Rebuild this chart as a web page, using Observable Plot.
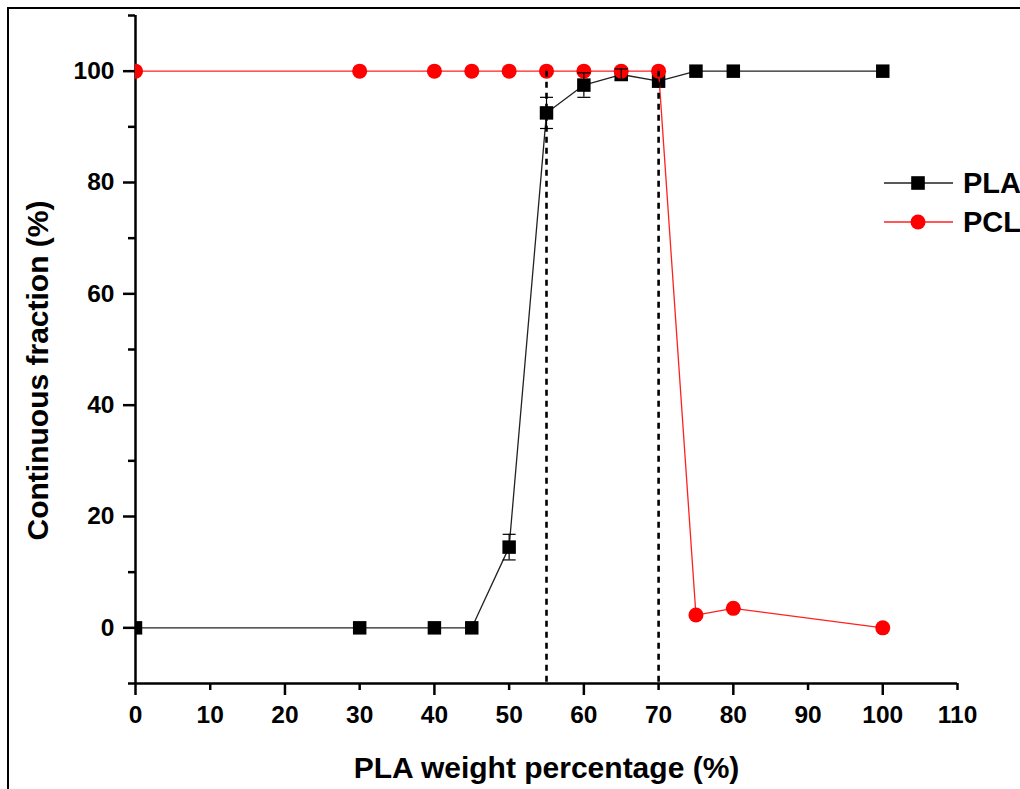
<!DOCTYPE html>
<html>
<head>
<meta charset="utf-8">
<script src="https://cdn.jsdelivr.net/npm/d3@7"></script>
<script src="https://cdn.jsdelivr.net/npm/@observablehq/plot@0.6"></script>
<style>
  html, body { margin: 0; padding: 0; background: #fff; }
  #wrap { position: relative; width: 1020px; height: 789px; overflow: hidden; font-family: "Liberation Sans", Arial, sans-serif; }
  #frame { position: absolute; left: 7px; top: 7px; width: 1100px; height: 900px; border-left: 2px solid #000; border-top: 2px solid #000; box-sizing: border-box; pointer-events: none; }
  #legend { position: absolute; left: 880px; top: 160px; }
</style>
</head>
<body>
<div id="wrap"><div id="frame"></div></div>
<script>
// ---- data ----
const plaX   = [0, 30, 40, 45, 50, 55, 60, 65, 70, 75, 80, 100];
const plaY   = [0, 0, 0, 0, 14.5, 92.5, 97.5, 99.4, 98.2, 100, 100, 100];
const plaErr = [0, 0, 0, 0, 2.3, 2.8, 2.2, 1.0, 0, 0, 0, 0];
const pclX   = [0, 30, 40, 45, 50, 55, 60, 65, 70, 75, 80, 100];
const pclY   = [100, 100, 100, 100, 100, 100, 100, 100, 100, 2.3, 3.5, 0];
const transitionX = [55, 70];
const xTickLabels = [0, 10, 20, 30, 40, 50, 60, 70, 80, 90, 100, 110];
const xMajor = [0, 20, 40, 60, 80, 100];
const xMinor = [10, 30, 50, 70, 90, 110];
const yMajor = [0, 20, 40, 60, 80, 100];
const yMinor = [-10, 10, 30, 50, 70, 90, 110];
const xTitle = "PLA weight percentage (%)";
const yTitle = "Continuous fraction (%)";
const seriesNames = ["PLA", "PCL"];

const pla = plaX.map((x, i) => ({x, y: plaY[i], lo: plaY[i] - plaErr[i], hi: plaY[i] + plaErr[i], e: plaErr[i]}));
const pcl = pclX.map((x, i) => ({x, y: pclY[i]}));
const errs = pla.filter(d => d.e > 0);

const capSymbol = { draw(ctx, size) { ctx.moveTo(-6.5, 0); ctx.lineTo(6.5, 0); } };
const blank = () => "";
const AX = 2.5;

const chart = Plot.plot({
  width: 1020,
  height: 789,
  marginLeft: 135,
  marginRight: 63,
  marginTop: 15,
  marginBottom: 106,
  style: { fontFamily: "'Liberation Sans', Arial, sans-serif", fontWeight: "bold", color: "#000", background: "transparent" },
  x: { domain: [0, 110] },
  y: { domain: [-10, 110] },
  marks: [
    // axes
    Plot.axisX(xTickLabels, { tickSize: 0, tickPadding: 22, fontSize: 24.5, fontWeight: "bold", label: null }),
    Plot.axisX(xMajor, { tickSize: 12, tickFormat: blank, strokeWidth: AX, label: null }),
    Plot.axisX(xMinor, { tickSize: 7, tickFormat: blank, strokeWidth: AX, label: null }),
    Plot.axisY(yMajor, { tickSize: 12, tickPadding: 9, fontSize: 24.5, fontWeight: "bold", strokeWidth: AX, label: null }),
    Plot.axisY(yMinor, { tickSize: 7, tickFormat: blank, strokeWidth: AX, label: null }),
    Plot.ruleY([-10], { stroke: "#000", strokeWidth: AX }),
    Plot.ruleX([0], { stroke: "#000", strokeWidth: AX }),
    // titles
    Plot.text([xTitle], { frameAnchor: "bottom", lineAnchor: "middle", textAnchor: "middle", dy: 85, fontSize: 30, fontWeight: "bold", fill: "#000" }),
    Plot.text([yTitle], { frameAnchor: "left", lineAnchor: "middle", textAnchor: "middle", rotate: -90, dx: -97, dy: 21, fontSize: 30, fontWeight: "bold", fill: "#000" }),
    // PLA
    Plot.line(pla, { x: "x", y: "y", stroke: "#222", strokeWidth: 1.3 }),
    Plot.dot(pla, { x: "x", y: "y", symbol: "square", r: 7.6, fill: "#000", stroke: "none", clip: true }),
    // PCL
    Plot.line(pcl, { x: "x", y: "y", stroke: "#ff2020", strokeWidth: 1.3 }),
    Plot.dot(pcl, { x: "x", y: "y", symbol: "circle", r: 7.5, fill: "#ff0000", stroke: "none", clip: true }),
    // error bars
    Plot.ruleX(errs, { x: "x", y1: "lo", y2: "hi", stroke: "#000", strokeWidth: 1.2 }),
    Plot.dot(errs, { x: "x", y: "lo", symbol: capSymbol, stroke: "#000", strokeWidth: 1.2, fill: "none" }),
    Plot.dot(errs, { x: "x", y: "hi", symbol: capSymbol, stroke: "#000", strokeWidth: 1.2, fill: "none" }),
    // transition lines
    Plot.ruleX(transitionX, { y1: 100, y2: -10, stroke: "#000", strokeWidth: 2.6, strokeDasharray: "6,5" })
  ]
});
const wrap = document.getElementById("wrap");
wrap.insertBefore(chart, wrap.firstChild);

// legend
const lg = d3.create("svg").attr("id", "legend").attr("width", 140).attr("height", 90);
const rows = [
  { name: seriesNames[0], color: "#000", line: "#222", sym: "square" },
  { name: seriesNames[1], color: "#ff0000", line: "#ff2020", sym: "circle" }
];
rows.forEach((r, i) => {
  const cy = 23 + i * 39;
  lg.append("line").attr("x1", 4).attr("x2", 73).attr("y1", cy).attr("y2", cy).attr("stroke", r.line).attr("stroke-width", 1.3);
  if (r.sym === "square") {
    lg.append("rect").attr("x", 38 - 6.8).attr("y", cy - 6.8).attr("width", 13.6).attr("height", 13.6).attr("fill", r.color);
  } else {
    lg.append("circle").attr("cx", 38).attr("cy", cy).attr("r", 7.5).attr("fill", r.color);
  }
  lg.append("text").attr("x", 83).attr("y", cy).attr("dy", "0.36em")
    .attr("font-family", "'Liberation Sans', Arial, sans-serif").attr("font-weight", "bold")
    .attr("font-size", 29).attr("fill", "#000").text(r.name);
});
wrap.appendChild(lg.node());
</script>
</body>
</html>
